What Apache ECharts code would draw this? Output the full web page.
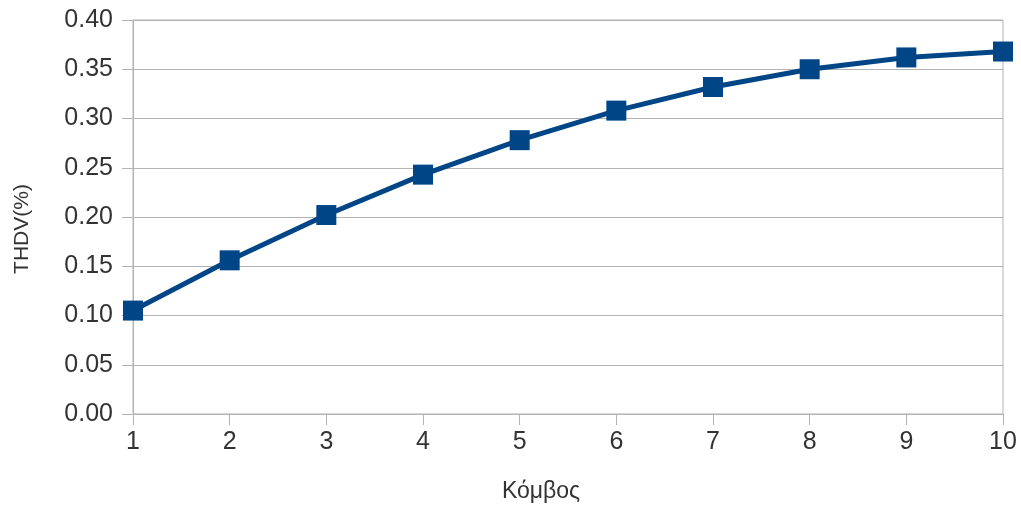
<!DOCTYPE html>
<html>
<head>
<meta charset="utf-8">
<script src="https://cdn.jsdelivr.net/npm/echarts@6/dist/echarts.min.js"></script>
<style>
  html, body { margin: 0; padding: 0; background: #ffffff; }
  #chart { width: 1021px; height: 506px; }
</style>
</head>
<body>
<div id="chart"></div>
<script>
// Node numbers along the feeder
const nodes = [1, 2, 3, 4, 5, 6, 7, 8, 9, 10];
// Voltage total harmonic distortion at each node (%)
const thdv = [0.105, 0.156, 0.202, 0.243, 0.278, 0.308, 0.332, 0.350, 0.362, 0.368];

const xTitle = 'Κόμβος';
const yTitle = 'THDV(%)';

const chart = echarts.init(document.getElementById('chart'), null, { renderer: 'canvas' });
const font = 'Liberation Sans, Arial, sans-serif';
const gridColor = '#b3b3b3';
const textColor = '#333333';

chart.setOption({
  animation: false,
  backgroundColor: '#ffffff',
  grid: {
    left: 133, right: 18, top: 20, bottom: 92,
    show: true, borderColor: gridColor, borderWidth: 1
  },
  // Axis titles, placed as free text
  graphic: [
    {
      type: 'text', x: 541, y: 492,
      style: { text: xTitle, font: '23px ' + font, fill: textColor, align: 'center', verticalAlign: 'middle' }
    },
    {
      type: 'text', x: 22, y: 229, rotation: Math.PI / 2,
      style: { text: yTitle, font: '21px ' + font, fill: textColor, align: 'center', verticalAlign: 'middle' }
    }
  ],
  xAxis: {
    type: 'value',
    min: 1, max: 10, interval: 1,
    axisLine: { show: true, lineStyle: { color: gridColor, width: 1 } },
    axisTick: { show: true, length: 11, lineStyle: { color: gridColor } },
    axisLabel: { fontFamily: font, fontSize: 25, color: textColor, margin: 16 },
    splitLine: { show: false }
  },
  yAxis: {
    type: 'value',
    min: 0, max: 0.4, interval: 0.05,
    axisLine: { show: true, lineStyle: { color: gridColor, width: 1 } },
    axisTick: { show: true, length: 11, lineStyle: { color: gridColor } },
    axisLabel: {
      fontFamily: font, fontSize: 25, color: textColor, margin: 20,
      formatter: v => v.toFixed(2)
    },
    splitLine: { show: true, lineStyle: { color: gridColor, width: 1 } }
  },
  series: [{
    type: 'line',
    data: nodes.map((n, i) => [n, thdv[i]]),
    symbol: 'rect',
    symbolSize: 20,
    lineStyle: { color: '#004586', width: 5 },
    itemStyle: { color: '#004586' },
    clip: false
  }]
});
</script>
</body>
</html>
